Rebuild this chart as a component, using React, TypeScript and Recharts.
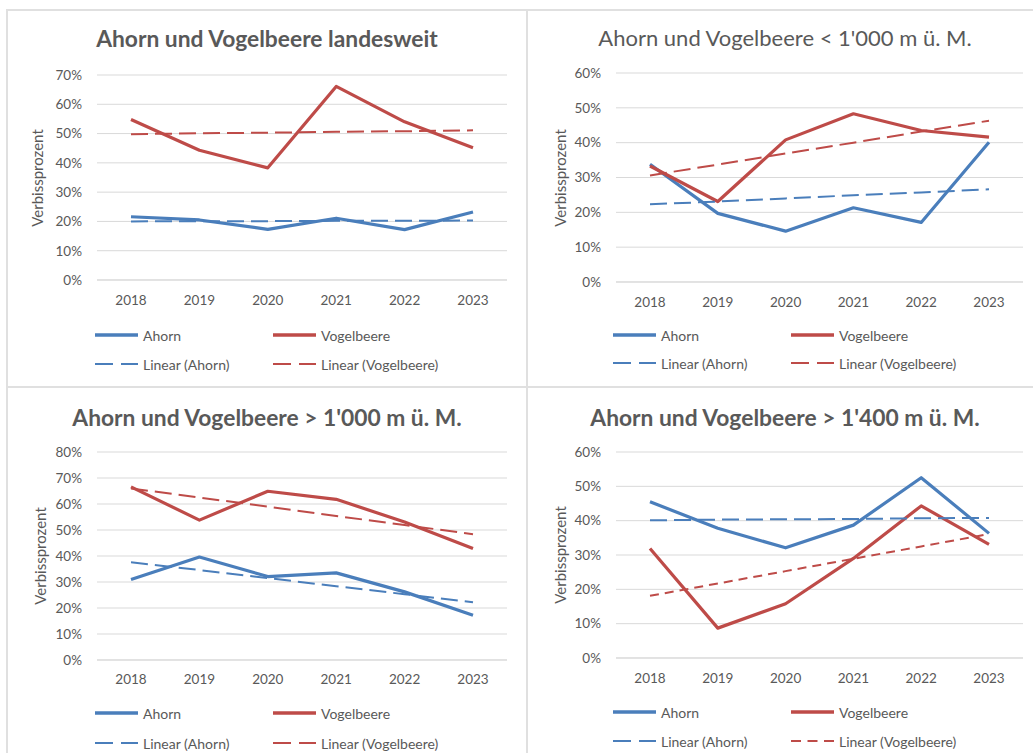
import { LineChart, Line, XAxis, YAxis, CartesianGrid } from 'recharts';

const years = ['2018', '2019', '2020', '2021', '2022', '2023'];

// Ahorn und Vogelbeere landesweit
const ahornLandesweit = [21.6, 20.5, 17.3, 21.1, 17.2, 23.2];
const vogelLandesweit = [54.8, 44.3, 38.3, 66.1, 54.0, 45.2];
const trendAhornLandesweit = [20.0, 20.1, 20.1, 20.2, 20.2, 20.3];
const trendVogelLandesweit = [49.8, 50.1, 50.3, 50.6, 50.8, 51.1];

// < 1'000 m ü. M.
const ahornUnter1000 = [33.8, 19.7, 14.6, 21.3, 17.1, 40.1];
const vogelUnter1000 = [33.3, 23.1, 40.8, 48.3, 43.5, 41.6];
const trendAhornUnter1000 = [22.3, 23.1, 24.0, 24.9, 25.7, 26.6];
const trendVogelUnter1000 = [30.6, 33.7, 36.9, 40.0, 43.2, 46.3];

// > 1'000 m ü. M.
const ahornUeber1000 = [31.0, 39.6, 32.1, 33.5, 26.2, 17.2];
const vogelUeber1000 = [66.6, 53.8, 64.9, 61.8, 53.1, 42.9];
const trendAhornUeber1000 = [37.6, 34.6, 31.5, 28.4, 25.3, 22.2];
const trendVogelUeber1000 = [66.0, 62.5, 59.0, 55.4, 51.9, 48.4];

// > 1'400 m ü. M.
const ahornUeber1400 = [45.5, 37.8, 32.1, 38.7, 52.5, 36.3];
const vogelUeber1400 = [31.9, 8.7, 15.8, 29.0, 44.3, 33.1];
const trendAhornUeber1400 = [40.1, 40.3, 40.4, 40.5, 40.7, 40.8];
const trendVogelUeber1400 = [18.1, 21.7, 25.3, 28.9, 32.5, 36.1];

const ticks60 = [0, 10, 20, 30, 40, 50, 60];
const ticks70 = [0, 10, 20, 30, 40, 50, 60, 70];
const ticks80 = [0, 10, 20, 30, 40, 50, 60, 70, 80];

const BLUE = '#4a7ebb';
const RED = '#be4b48';
const TEXT = '#595959';
const GRID = '#d9d9d9';
const BORDER = '#e0e0e0';
const FONT = 'Lato, "Open Sans", sans-serif';

const buildRows = (a: number[], v: number[], ta: number[], tv: number[]) =>
  years.map((year, i) => ({ year, ahorn: a[i], vogel: v[i], trendAhorn: ta[i], trendVogel: tv[i] }));

const panels = [
  {
    title: 'Ahorn und Vogelbeere landesweit', bold: true,
    rows: buildRows(ahornLandesweit, vogelLandesweit, trendAhornLandesweit, trendVogelLandesweit),
    ticks: ticks70, vogelDash: '17 7',
    plot: [97, 75, 507, 280], cx: 267, titleY: 38, labelX: 37, tickY: 300, legendY: [335, 364], legendX: 95,
  },
  {
    title: "Ahorn und Vogelbeere < 1'000 m ü. M.", bold: false,
    rows: buildRows(ahornUnter1000, vogelUnter1000, trendAhornUnter1000, trendVogelUnter1000),
    ticks: ticks60, vogelDash: '17 7',
    plot: [616, 73, 1023, 282], cx: 785, titleY: 38, labelX: 560, tickY: 302, legendY: [335, 363], legendX: 613,
  },
  {
    title: "Ahorn und Vogelbeere > 1'000 m ü. M.", bold: true,
    rows: buildRows(ahornUeber1000, vogelUeber1000, trendAhornUeber1000, trendVogelUeber1000),
    ticks: ticks80, vogelDash: '17 7',
    plot: [97, 452, 507, 660], cx: 267, titleY: 417, labelX: 40, tickY: 679, legendY: [713, 743], legendX: 95,
  },
  {
    title: "Ahorn und Vogelbeere > 1'400 m ü. M.", bold: true,
    rows: buildRows(ahornUeber1400, vogelUeber1400, trendAhornUeber1400, trendVogelUeber1400),
    ticks: ticks60, vogelDash: '9 6',
    plot: [616, 452, 1023, 658], cx: 785, titleY: 417, labelX: 560, tickY: 678, legendY: [712, 741], legendX: 613,
  },
];

type PanelCfg = (typeof panels)[number];

function LegendSwatch({ color, width, dash }: { color: string; width: number; dash?: string }) {
  return (
    <svg width={44} height={8} style={{ display: 'block' }}>
      <line x1={0} y1={4} x2={43} y2={4} stroke={color} strokeWidth={width} strokeDasharray={dash} />
    </svg>
  );
}

function Panel({ cfg }: { cfg: PanelCfg }) {
  const [left, top, right, bottom] = cfg.plot;
  const yAxisW = 70;
  const mTop = 10;
  const mRight = 12;
  const xAxisH = 40;
  const w = right - left + yAxisW + mRight;
  const h = bottom - top + mTop + xAxisH;
  const max = cfg.ticks[cfg.ticks.length - 1];

  const legendItems = [
    { name: 'Ahorn', color: BLUE, width: 3.5, dash: undefined },
    { name: 'Vogelbeere', color: RED, width: 3.5, dash: undefined },
    { name: 'Linear (Ahorn)', color: BLUE, width: 2, dash: '18 8' },
    { name: 'Linear (Vogelbeere)', color: RED, width: 2, dash: cfg.vogelDash === '9 6' ? '10 6.5' : '18 8' },
  ];

  return (
    <>
      <div
        style={{
          position: 'absolute', left: cfg.cx - 300, width: 600, top: cfg.titleY - 15, lineHeight: '30px',
          textAlign: 'center', fontSize: cfg.bold ? 22.8 : 22, fontWeight: cfg.bold ? 700 : 400, color: TEXT,
          whiteSpace: 'nowrap',
        }}
      >
        {cfg.title}
      </div>
      <div
        style={{
          position: 'absolute', left: cfg.labelX, top: (top + bottom) / 2, fontSize: 15, color: TEXT,
          transform: 'translate(-50%, -50%) rotate(-90deg)', whiteSpace: 'nowrap', lineHeight: '16px',
        }}
      >
        Verbissprozent
      </div>
      <div style={{ position: 'absolute', left: left - yAxisW, top: top - mTop }}>
        <LineChart width={w} height={h} data={cfg.rows} margin={{ top: mTop, right: mRight, bottom: 0, left: 0 }}>
          <CartesianGrid vertical={false} stroke={GRID} strokeWidth={1} />
          <XAxis
            dataKey="year" height={xAxisH} axisLine={{ stroke: GRID }} tickLine={false} tickSize={0}
            tickMargin={cfg.tickY - bottom - 5} padding={{ left: 34, right: 34 }}
            tick={{ fill: TEXT, fontSize: 13.5, fontFamily: FONT }} interval={0}
          />
          <YAxis
            width={yAxisW} domain={[0, max]} ticks={cfg.ticks} axisLine={false} tickLine={false} tickSize={0}
            tickMargin={15} tickFormatter={(v: number) => `${v}%`}
            tick={{ fill: TEXT, fontSize: 13.5, fontFamily: FONT }} interval={0}
          />
          <Line dataKey="ahorn" name="Ahorn" stroke={BLUE} strokeWidth={3.2} dot={false} activeDot={false}
            isAnimationActive={false} strokeLinejoin="round" />
          <Line dataKey="vogel" name="Vogelbeere" stroke={RED} strokeWidth={3.2} dot={false} activeDot={false}
            isAnimationActive={false} strokeLinejoin="round" />
          <Line dataKey="trendAhorn" name="Linear (Ahorn)" stroke={BLUE} strokeWidth={2} strokeDasharray="17 7"
            dot={false} activeDot={false} isAnimationActive={false} />
          <Line dataKey="trendVogel" name="Linear (Vogelbeere)" stroke={RED} strokeWidth={2}
            strokeDasharray={cfg.vogelDash} dot={false} activeDot={false} isAnimationActive={false} />
        </LineChart>
      </div>
      {legendItems.map((item, i) => (
        <div
          key={item.name}
          style={{
            position: 'absolute', left: cfg.legendX + (i % 2) * 178, top: cfg.legendY[Math.floor(i / 2)] - 10,
            height: 20, display: 'flex', alignItems: 'center', fontSize: 14, color: TEXT, whiteSpace: 'nowrap',
          }}
        >
          <LegendSwatch color={item.color} width={item.width} dash={item.dash} />
          <span style={{ marginLeft: 4 }}>{item.name}</span>
        </div>
      ))}
    </>
  );
}

export default function App() {
  return (
    <div
      style={{
        position: 'absolute', left: 0, top: 0, width: 1033, height: 753, overflow: 'hidden',
        background: '#fff', fontFamily: FONT,
      }}
    >
      <div style={{ position: 'absolute', left: 6, top: 9, width: 1027, height: 2, background: BORDER }} />
      <div style={{ position: 'absolute', left: 6, top: 386, width: 1027, height: 2, background: BORDER }} />
      <div style={{ position: 'absolute', left: 6, top: 9, width: 2, height: 744, background: BORDER }} />
      <div style={{ position: 'absolute', left: 526, top: 9, width: 2, height: 744, background: BORDER }} />
      {panels.map((p) => (
        <Panel key={p.title} cfg={p} />
      ))}
    </div>
  );
}
